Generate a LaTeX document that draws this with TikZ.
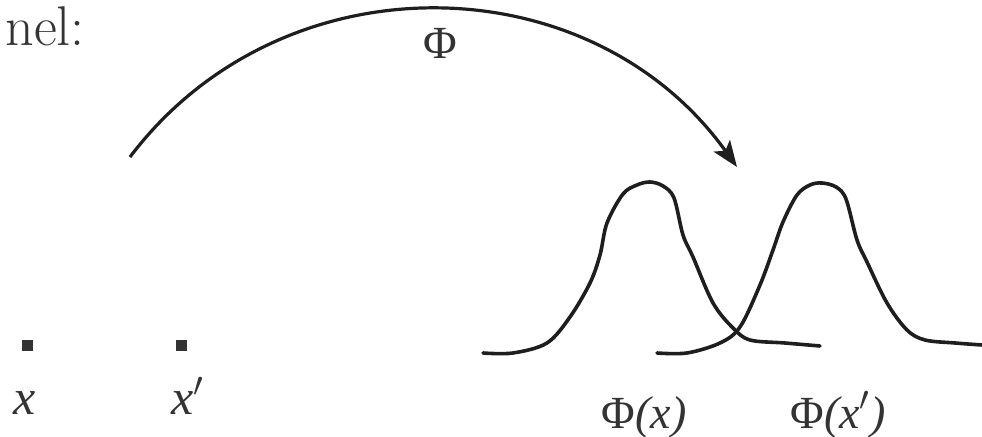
\documentclass[tikz,border=0pt]{standalone}
\usepackage{fontspec}
\newfontfamily\timesfont{Liberation Serif}
\usetikzlibrary{arrows.meta}
\definecolor{ink}{HTML}{1E1E1E}
\definecolor{txt}{HTML}{333333}
\tikzset{
  curve/.style={draw=ink, line width=1.8pt, line join=round, line cap=round},
  arcline/.style={draw=ink, line width=1.6pt, -{Stealth[length=13pt,width=10pt,inset=3pt]}},
  dotmark/.style={fill=txt, minimum size=5.5pt, inner sep=0pt, draw=none},
  lbl/.style={text=txt, inner sep=0pt, font=\timesfont\fontsize{23}{27}\selectfont},
  xlbl/.style={text=txt, inner sep=0pt, font=\timesfont\fontsize{25}{30}\selectfont},
}
\begin{document}
\begin{tikzpicture}[x=0.5pt,y=-0.5pt]
\useasboundingbox (0,0) rectangle (982,437);
% heading fragment
\node[anchor=base west, inner sep=0pt, text=txt, font=\fontsize{28}{33}\selectfont] (head) at (5,46) {nel:};
% input points
\node[dotmark] (p1) at (27.5,345.5) {};
\node[dotmark] (p2) at (181.5,345.5) {};
\node[xlbl, anchor=base] (lx) at (25,415) {\itshape x};
\node[xlbl, anchor=base] (lxp) at (188,415) {\itshape x$'$};
% mapping arc
\coordinate (aS) at (130,157);
\coordinate (aE) at (737,167);
\draw[arcline] (aS) .. controls (282,-44) and (590,-38) .. (aE);
\node[lbl, anchor=base] (phi) at (440,59) {Φ};
% gaussians
\draw[curve] plot[smooth, tension=0.55] coordinates {
 (483,353) (513,353) (547,343) (570,317) (590,283) (600,255) (607,223)
 (623,194) (637,185) (650,182) (663,186) (674,198) (683,235) (693,257)
 (713,303) (733,328) (750,340) (785,343) (820,346)};
\draw[curve] plot[smooth, tension=0.55] coordinates {
 (657,353) (687,353) (720,343) (740,327) (760,285) (773,250) (783,222)
 (797,195) (810,185) (822,183) (836,187) (846,199) (857,240) (867,262)
 (887,303) (907,330) (925,340) (955,343) (982,345)};
\node[lbl, anchor=base] (f1) at (644,429) {Φ\textit{(x)}};
\node[lbl, anchor=base] (f2) at (838,429) {Φ\textit{(x$'$)}};
\end{tikzpicture}
\end{document}
